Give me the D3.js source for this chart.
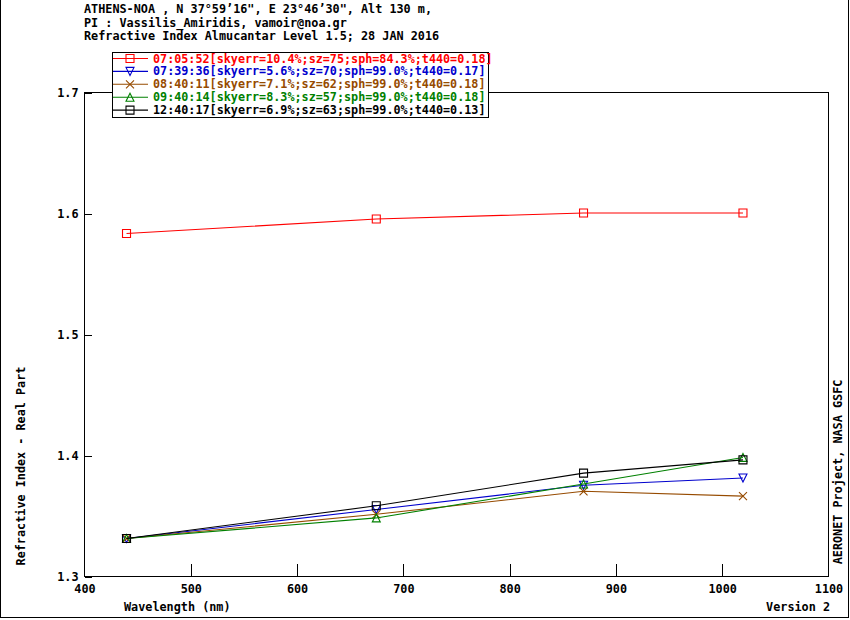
<!DOCTYPE html>
<html><head><meta charset="utf-8">
<script src="https://cdn.jsdelivr.net/npm/d3@7"></script>
<style>
body{margin:0;background:#fff;}
text{font-family:"DejaVu Sans Mono",monospace;font-weight:bold;}
</style></head>
<body>
<svg id="chart" width="850" height="620"></svg>
<script>
const wavelengths = [440, 675, 870, 1020];
const seriesNames = [
  "07:05:52[skyerr=10.4%;sz=75;sph=84.3%;t440=0.18]",
  "07:39:36[skyerr=5.6%;sz=70;sph=99.0%;t440=0.17]",
  "08:40:11[skyerr=7.1%;sz=62;sph=99.0%;t440=0.18]",
  "09:40:14[skyerr=8.3%;sz=57;sph=99.0%;t440=0.18]",
  "12:40:17[skyerr=6.9%;sz=63;sph=99.0%;t440=0.13]"
];
const red   = [1.583, 1.595, 1.600, 1.600];
const blue  = [1.331, 1.355, 1.375, 1.381];
const brown = [1.331, 1.351, 1.370, 1.366];
const green = [1.331, 1.348, 1.376, 1.398];
const black = [1.331, 1.358, 1.385, 1.396];
const seriesValues = [red, blue, brown, green, black];
const seriesColors = ["#ff0000", "#0000cd", "#964b00", "#008000", "#000000"];
const seriesMarkers = ["square", "triDown", "cross", "triUp", "square"];
const xTicks = [400, 500, 600, 700, 800, 900, 1000, 1100];
const yTicks = [1.3, 1.4, 1.5, 1.6, 1.7];
const titleLines = [
  "ATHENS-NOA , N 37°59’16\", E 23°46’30\", Alt 130 m,",
  "PI : Vassilis_Amiridis, vamoir@noa.gr",
  "Refractive Index Almucantar Level 1.5; 28 JAN 2016"
];

const svg = d3.select("#chart");
const fs = "11.8px";
const fsLeg = "11.75px";
const x = d3.scaleLinear().domain([400, 1100]).range([84, 828]);
const y = d3.scaleLinear().domain([1.3, 1.7]).range([576, 92]);

// outer border (left, right, bottom)
svg.append("path").attr("d","M0.5,0 V617.5 H848.5 V0")
  .attr("fill","none").attr("stroke","#000").attr("shape-rendering","crispEdges");

// title
svg.selectAll("text.title").data(titleLines).enter().append("text")
  .attr("x", 84).attr("y", (d,i)=>13 + i*13.5).attr("font-size", fs).text(d=>d);

// plot frame
svg.append("rect").attr("x", 84.5).attr("y", 92.5).attr("width", 744).attr("height", 484)
  .attr("fill","none").attr("stroke","#000").attr("shape-rendering","crispEdges");

// axes
const xAxis = d3.axisBottom(x).tickValues(xTicks).tickSize(-13).tickFormat(d3.format("d"));
const gx = svg.append("g").attr("transform","translate(0.5,576.5)").call(xAxis);
gx.select(".domain").remove();
gx.selectAll(".tick line").attr("shape-rendering","crispEdges");
gx.selectAll(".tick text").attr("font-size", fs).attr("font-family","DejaVu Sans Mono").attr("font-weight","bold")
  .attr("dy","0").attr("y", 16);
gx.selectAll(".tick").filter(d=>d===400||d===1100).select("line").remove();

const yAxis = d3.axisLeft(y).tickValues(yTicks).tickSize(-7).tickFormat(d3.format(".1f"));
const gy = svg.append("g").attr("transform","translate(84.5,0.5)").call(yAxis);
gy.select(".domain").remove();
gy.selectAll(".tick line").attr("shape-rendering","crispEdges");
gy.selectAll(".tick text").attr("font-size", fs).attr("font-family","DejaVu Sans Mono").attr("font-weight","bold").attr("x",-6);

// axis labels
svg.append("text").attr("x",124).attr("y",611).attr("font-size",fs).text("Wavelength (nm)");
svg.append("text").attr("x",830).attr("y",611).attr("text-anchor","end").attr("font-size",fs).text("Version 2");
svg.append("text").attr("transform","translate(25,466) rotate(-90)").attr("text-anchor","middle")
  .attr("font-size",fs).text("Refractive Index - Real Part");
svg.append("text").attr("transform","translate(842,472) rotate(-90)").attr("text-anchor","middle")
  .attr("font-size",fs).attr("font-weight","normal").text("AERONET Project, NASA GSFC");

// marker drawing
function marker(g, type, cx, cy, color){
  const s = 4;
  let d;
  if(type==="square") d = `M${cx-s},${cy-s}H${cx+s}V${cy+s}H${cx-s}Z`;
  else if(type==="triDown") d = `M${cx-s},${cy-s}H${cx+s}L${cx},${cy+s}Z`;
  else if(type==="triUp") d = `M${cx-s},${cy+s}H${cx+s}L${cx},${cy-s}Z`;
  else d = `M${cx-s},${cy-s}L${cx+s},${cy+s}M${cx-s},${cy+s}L${cx+s},${cy-s}`;
  g.append("path").attr("d", d).attr("fill","none").attr("stroke", color).attr("stroke-width",1.1);
}

const line = d3.line().x((d,i)=>x(wavelengths[i])).y(d=>y(d));
seriesValues.forEach((vals, k)=>{
  const g = svg.append("g");
  g.append("path").datum(vals).attr("d", line).attr("fill","none")
    .attr("stroke", seriesColors[k]).attr("stroke-width",1.1);
  vals.forEach((v,i)=> marker(g, seriesMarkers[k], x(wavelengths[i]), y(v), seriesColors[k]));
});

// legend
const lg = svg.append("g");
lg.append("rect").attr("x",112.5).attr("y",52.5).attr("width",376).attr("height",65)
  .attr("fill","#fff").attr("stroke","#000").attr("shape-rendering","crispEdges");
seriesNames.forEach((name,k)=>{
  const ly = 58.5 + k*12.9;
  lg.append("line").attr("x1",113).attr("x2",148).attr("y1",ly).attr("y2",ly)
    .attr("stroke",seriesColors[k]).attr("stroke-width",1.1);
  marker(lg, seriesMarkers[k], 130, ly, seriesColors[k]);
  lg.append("text").attr("x",153).attr("y",ly+4).attr("font-size",fsLeg)
    .attr("fill",seriesColors[k]).text(name);
});
</script>
</body></html>
